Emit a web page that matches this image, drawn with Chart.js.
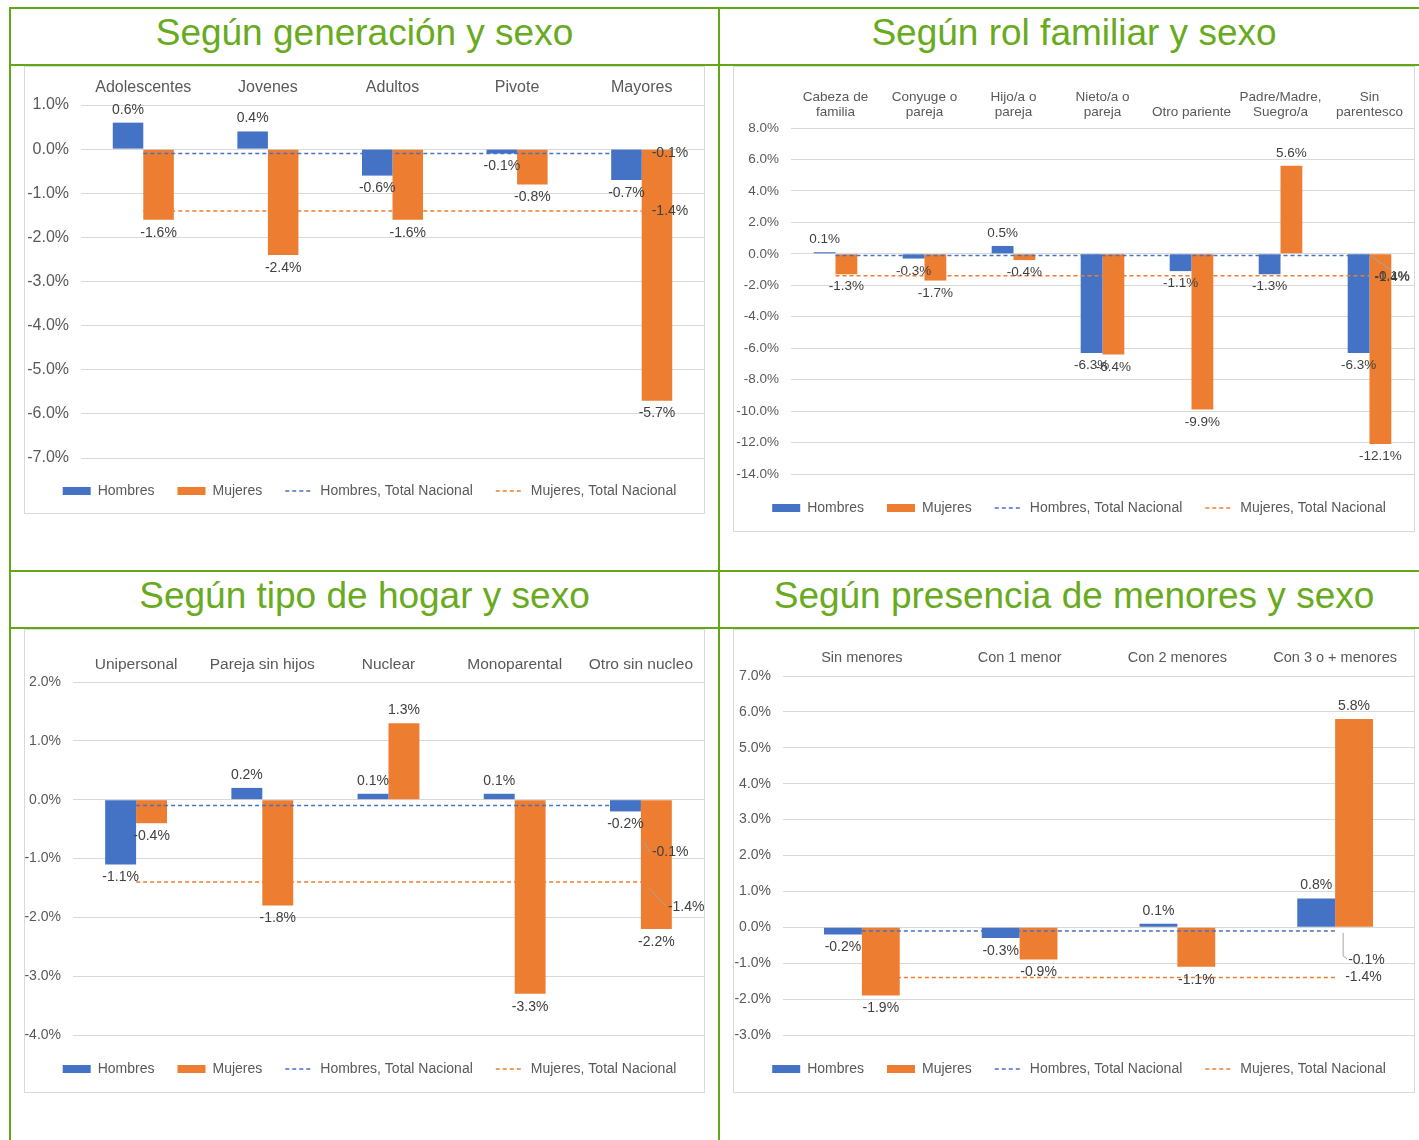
<!DOCTYPE html>
<html lang="es">
<head>
<meta charset="utf-8">
<title>Variación por sexo</title>
<script src="https://cdn.jsdelivr.net/npm/chart.js@4.4.1/dist/chart.umd.min.js"></script>
<style>
  html, body { margin: 0; padding: 0; background: #fff; }
  body { width: 1419px; height: 1140px; position: relative; overflow: hidden;
         font-family: "Liberation Sans", Arial, Helvetica, sans-serif; }
  .rule { position: absolute; background: #62a814; }
  .title { position: absolute; text-align: center; color: #68aa20; font-size: 37px;
           line-height: 37px; white-space: nowrap; }
  .box { position: absolute; border: 1px solid #d9d9d9; box-sizing: border-box; background: #fff; }
  .box canvas { display: block; }
</style>
</head>
<body>

<div class="rule" style="left:9px; top:7px; width:1410px; height:2px"></div>
<div class="rule" style="left:9px; top:64px; width:1410px; height:2px"></div>
<div class="rule" style="left:9px; top:570px; width:1410px; height:2px"></div>
<div class="rule" style="left:9px; top:627px; width:1410px; height:2px"></div>
<div class="rule" style="left:9px; top:7px; width:2px; height:1133px"></div>
<div class="rule" style="left:718px; top:7px; width:2px; height:1133px"></div>

<div class="title" style="left:11px; width:707px; top:14px">Según generación y sexo</div>
<div class="title" style="left:720px; width:708px; top:14px">Según rol familiar y sexo</div>
<div class="title" style="left:11px; width:707px; top:577px">Según tipo de hogar y sexo</div>
<div class="title" style="left:720px; width:708px; top:577px">Según presencia de menores y sexo</div>

<div class="box" style="left:24px; top:66px; width:681px; height:448px">
  <canvas id="generacion" width="679" height="446"></canvas>
</div>
<div class="box" style="left:733px; top:66px; width:682px; height:466px">
  <canvas id="rol" width="680" height="464"></canvas>
</div>
<div class="box" style="left:24px; top:629px; width:681px; height:464px">
  <canvas id="hogar" width="679" height="462"></canvas>
</div>
<div class="box" style="left:733px; top:629px; width:682px; height:464px">
  <canvas id="menores" width="680" height="462"></canvas>
</div>

<script>
// Según generación y sexo
const generacionCategorias = ['Adolescentes', 'Jovenes', 'Adultos', 'Pivote', 'Mayores'];
const generacionHombres = [0.6, 0.4, -0.6, -0.1, -0.7];
const generacionMujeres = [-1.6, -2.4, -1.6, -0.8, -5.7];
const generacionHombresNac = [-0.1, -0.1, -0.1, -0.1, -0.1];
const generacionMujeresNac = [-1.4, -1.4, -1.4, -1.4, -1.4];
const generacionEje = [-7, 1, 1];   // min, max, paso

// Según rol familiar y sexo
const rolCategorias = [
  ['Cabeza de', 'familia'], ['Conyuge o', 'pareja'], ['Hijo/a o', 'pareja'],
  ['Nieto/a o', 'pareja'], 'Otro pariente', ['Padre/Madre,', 'Suegro/a'], ['Sin', 'parentesco']
];
const rolHombres = [0.1, -0.3, 0.5, -6.3, -1.1, -1.3, -6.3];
const rolMujeres = [-1.3, -1.7, -0.4, -6.4, -9.9, 5.6, -12.1];
const rolHombresNac = [-0.1, -0.1, -0.1, -0.1, -0.1, -0.1, -0.1];
const rolMujeresNac = [-1.4, -1.4, -1.4, -1.4, -1.4, -1.4, -1.4];
const rolEje = [-14, 8, 2];

// Según tipo de hogar y sexo
const hogarCategorias = ['Unipersonal', 'Pareja sin hijos', 'Nuclear', 'Monoparental', 'Otro sin nucleo'];
const hogarHombres = [-1.1, 0.2, 0.1, 0.1, -0.2];
const hogarMujeres = [-0.4, -1.8, 1.3, -3.3, -2.2];
const hogarHombresNac = [-0.1, -0.1, -0.1, -0.1, -0.1];
const hogarMujeresNac = [-1.4, -1.4, -1.4, -1.4, -1.4];
const hogarEje = [-4, 2, 1];

// Según presencia de menores y sexo
const menoresCategorias = ['Sin menores', 'Con 1 menor', 'Con 2 menores', 'Con 3 o + menores'];
const menoresHombres = [-0.2, -0.3, 0.1, 0.8];
const menoresMujeres = [-1.9, -0.9, -1.1, 5.8];
const menoresHombresNac = [-0.1, -0.1, -0.1, -0.1];
const menoresMujeresNac = [-1.4, -1.4, -1.4, -1.4];
const menoresEje = [-3, 7, 1];

const FUENTE = '"Liberation Sans", Arial, Helvetica, sans-serif';
const AZUL = '#4472c4';
const NARANJA = '#ed7d31';
const GRIS = '#595959';
const SEP_LEYENDA = 23;

const pct = v => v.toFixed(1) + '%';

// etiquetas de valor: encima/debajo de cada barra y al final de cada línea
const etiquetas = {
  id: 'etiquetas',
  afterDatasetsDraw(chart, args, opts) {
    const ctx = chart.ctx;
    ctx.save();
    ctx.font = opts.size + 'px ' + FUENTE;
    ctx.textBaseline = 'middle';
    chart.data.datasets.forEach((ds, i) => {
      const meta = chart.getDatasetMeta(i);
      if (meta.type === 'bar') {
        ctx.fillStyle = '#404040';
        ctx.textAlign = 'center';
        meta.data.forEach((bar, j) => {
          const v = ds.data[j];
          ctx.fillText(pct(v), bar.x, v >= 0 ? bar.y - opts.gap : bar.y + opts.gap);
        });
      } else {
        const n = ds.data.length - 1;
        const p = meta.data[n];
        const fin = (opts.finales && opts.finales[ds.label]) || { dx: 10, dy: 0 };
        if (fin.guia) {
          ctx.strokeStyle = '#a6a6a6';
          ctx.lineWidth = 1;
          ctx.setLineDash([]);
          ctx.beginPath();
          fin.guia.forEach(([gx, gy], k) => {
            if (k === 0) ctx.moveTo(p.x + gx, p.y + gy);
            else ctx.lineTo(p.x + gx, p.y + gy);
          });
          ctx.stroke();
        }
        ctx.fillStyle = '#404040';
        ctx.textAlign = 'left';
        ctx.fillText(pct(ds.data[n]), p.x + fin.dx, p.y + fin.dy);
      }
    });
    ctx.restore();
  }
};

// desplaza la leyenda ya colocada sin tocar el área del gráfico
const ajusteLeyenda = {
  id: 'ajusteLeyenda',
  afterLayout(chart, args, opts) {
    const l = chart.legend;
    l.left += opts.dx; l.right += opts.dx;
    l.top += opts.dy; l.bottom += opts.dy;
  }
};

function grafico(id, categorias, hombres, mujeres, hombresNac, mujeresNac, eje, g) {
  const canvas = document.getElementById(id);
  const altoLeyenda = 14 + SEP_LEYENDA + 10;
  const linea = (label, data, color) => ({
    type: 'line', label, data, borderColor: color, backgroundColor: color,
    borderWidth: 1.5, borderDash: [4, 3], pointRadius: 0, pointHoverRadius: 0,
    fill: false, order: 0
  });
  return new Chart(canvas, {
    type: 'bar',
    data: {
      labels: categorias,
      datasets: [
        { type: 'bar', label: 'Hombres', data: hombres, backgroundColor: AZUL, order: 1 },
        { type: 'bar', label: 'Mujeres', data: mujeres, backgroundColor: NARANJA, order: 1 },
        linea('Hombres, Total Nacional', hombresNac, AZUL),
        linea('Mujeres, Total Nacional', mujeresNac, NARANJA)
      ]
    },
    options: {
      responsive: false,
      animation: false,
      events: [],
      layout: { padding: { top: 0, left: 0, right: 0, bottom: canvas.height - g.abajo - altoLeyenda } },
      datasets: { bar: { barPercentage: 1, categoryPercentage: g.grupo, borderWidth: 0 } },
      scales: {
        x: {
          position: 'top',
          afterFit: s => { s.height = g.arriba; },
          grid: { display: false, drawTicks: false },
          border: { display: false },
          ticks: {
            autoSkip: false, maxRotation: 0, minRotation: 0, padding: g.padCat, color: GRIS,
            font: { family: FUENTE, size: g.fCat, lineHeight: g.lhCat }
          }
        },
        y: {
          min: eje[0], max: eje[1],
          afterFit: s => { s.width = g.izq; },
          grid: { color: '#d9d9d9', lineWidth: 1, drawTicks: false },
          border: { display: false },
          ticks: {
            stepSize: eje[2], padding: 12, color: GRIS,
            font: { family: FUENTE, size: g.fEje },
            callback: v => pct(v)
          }
        }
      },
      plugins: {
        tooltip: { enabled: false },
        legend: {
          position: 'bottom',
          labels: {
            usePointStyle: true, pointStyleWidth: 28, boxHeight: 8,
            padding: SEP_LEYENDA, color: GRIS,
            font: { family: FUENTE, size: 14 },
            sort: (a, b) => a.datasetIndex - b.datasetIndex,
            generateLabels(chart) {
              const items = Chart.defaults.plugins.legend.labels.generateLabels(chart);
              items.forEach(it => {
                const ds = chart.data.datasets[it.datasetIndex];
                if (ds.type === 'line') {
                  it.pointStyle = 'line';
                  it.lineDash = ds.borderDash;
                  it.lineWidth = ds.borderWidth;
                  it.strokeStyle = ds.borderColor;
                } else {
                  it.pointStyle = 'rect';
                  it.lineWidth = 0;
                  it.fillStyle = ds.backgroundColor;
                }
              });
              return items;
            }
          }
        },
        ajusteLeyenda: { dx: 5, dy: g.bajaLeyenda },
        etiquetas: { size: g.fVal, gap: g.gap, finales: g.finales }
      }
    },
    plugins: [etiquetas, ajusteLeyenda]
  });
}

grafico('generacion', generacionCategorias, generacionHombres, generacionMujeres,
  generacionHombresNac, generacionMujeresNac, generacionEje,
  { izq: 56, arriba: 38, abajo: 391, bajaLeyenda: 3, grupo: 0.49,
    fCat: 16, lhCat: 1.2, padCat: 8, fEje: 16, fVal: 14, gap: 13 });

grafico('rol', rolCategorias, rolHombres, rolMujeres,
  rolHombresNac, rolMujeresNac, rolEje,
  { izq: 57, arriba: 61, abajo: 407, bajaLeyenda: 4, grupo: 0.49,
    fCat: 13.5, lhCat: 1.11, padCat: 8, fEje: 13.5, fVal: 13.5, gap: 12.5,
    finales: {
      'Hombres, Total Nacional': { dx: 5, dy: 21, guia: [[2, 1], [22, 15]] },
      'Mujeres, Total Nacional': { dx: 5, dy: 1 }
    } });

grafico('hogar', hogarCategorias, hogarHombres, hogarMujeres,
  hogarHombresNac, hogarMujeresNac, hogarEje,
  { izq: 48, arriba: 52, abajo: 405, bajaLeyenda: 4, grupo: 0.49,
    fCat: 15.5, lhCat: 1.2, padCat: 8, fEje: 14, fVal: 14, gap: 13,
    finales: {
      'Hombres, Total Nacional': { dx: 11, dy: 47, guia: [[3, 37], [9, 46]] },
      'Mujeres, Total Nacional': { dx: 27, dy: 25, guia: [[8, 6], [25, 24]] }
    } });

grafico('menores', menoresCategorias, menoresHombres, menoresMujeres,
  menoresHombresNac, menoresMujeresNac, menoresEje,
  { izq: 49, arriba: 46, abajo: 405, bajaLeyenda: 4, grupo: 0.48,
    fCat: 14.5, lhCat: 1.2, padCat: 9, fEje: 14, fVal: 14, gap: 13,
    finales: {
      'Hombres, Total Nacional': { dx: 13, dy: 29, guia: [[8, 2], [8, 25], [12, 28]] },
      'Mujeres, Total Nacional': { dx: 10, dy: 0 }
    } });
</script>
</body>
</html>
